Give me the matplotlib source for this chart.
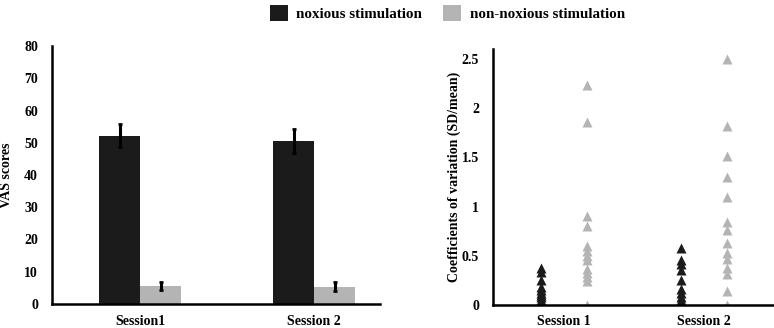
import matplotlib
matplotlib.use("Agg")
import matplotlib.pyplot as plt
from matplotlib.patches import Patch
import numpy as np

plt.rcParams['font.family'] = ['Liberation Serif', 'DejaVu Serif']
plt.rcParams['font.weight'] = 'bold'

sessions_left = ["Session1", "Session 2"]
sessions_right = ["Session 1", "Session 2"]
series = ["noxious stimulation", "non-noxious stimulation"]
colors = ["#1b1b1b", "#b4b4b4"]

vas_noxious = [52.2, 50.6]
vas_noxious_err = [3.6, 3.7]
vas_non = [5.6, 5.4]
vas_non_err = [1.3, 1.4]

cv_nox_s1 = [0.38, 0.34, 0.25, 0.18, 0.15, 0.12, 0.10, 0.08, 0.05, 0.03, 0.01]
cv_non_s1 = [2.23, 1.86, 0.90, 0.80, 0.60, 0.55, 0.50, 0.46, 0.37, 0.33, 0.28, 0.24, 0.0]
cv_nox_s2 = [0.58, 0.46, 0.42, 0.36, 0.25, 0.16, 0.12, 0.08, 0.05, 0.02, 0.0]
cv_non_s2 = [2.50, 1.82, 1.51, 1.30, 1.10, 0.84, 0.76, 0.63, 0.53, 0.47, 0.38, 0.31, 0.14, 0.0]

W, H = 774, 328
fig = plt.figure(figsize=(W / 100, H / 100), dpi=100)

def ax_rect(l, r, b, t):
    return [l / W, 1 - b / H, (r - l) / W, (b - t) / H]

tick_fs = 10

# Left: bar chart
ax1 = fig.add_axes(ax_rect(52, 380, 304, 46))
x = np.arange(len(sessions_left))
bw = 0.236
ax1.bar(x - bw / 2, vas_noxious, bw, color=colors[0])
ax1.bar(x + bw / 2, vas_non, bw, color=colors[1])
ax1.errorbar(x - bw / 2, vas_noxious, yerr=vas_noxious_err, fmt='none',
             ecolor='black', elinewidth=2.2, capsize=1.2, capthick=2)
ax1.errorbar(x + bw / 2, vas_non, yerr=vas_non_err, fmt='none',
             ecolor='black', elinewidth=2.2, capsize=1.2, capthick=2)
ax1.set_xlim(-0.506, 1.379)
ax1.set_ylim(0, 80)
ax1.set_yticks(range(0, 81, 10))
ax1.set_xticks(x)
ax1.set_xticklabels(sessions_left)
ax1.set_ylabel("VAS scores", fontsize=tick_fs, fontweight='bold')
ax1.yaxis.set_label_coords((13 - 52) / 328, 0.5)

# Right: scatter
ax2 = fig.add_axes(ax_rect(493, 774, 305, 49))
off = 0.164
ms = 6.5
ax2.plot([0 - off] * len(cv_nox_s1), cv_nox_s1, '^', color=colors[0], ms=ms, mec='none')
ax2.plot([0 + off] * len(cv_non_s1), cv_non_s1, '^', color=colors[1], ms=ms, mec='none')
ax2.plot([1 - off] * len(cv_nox_s2), cv_nox_s2, '^', color=colors[0], ms=ms, mec='none')
ax2.plot([1 + off] * len(cv_non_s2), cv_non_s2, '^', color=colors[1], ms=ms, mec='none')
ax2.set_xlim(-0.505, 1.502)
ax2.set_ylim(0, 2.6)
ax2.set_yticks([0, 0.5, 1, 1.5, 2, 2.5])
ax2.set_yticklabels(["0", "0.5", "1", "1.5", "2", "2.5"])
ax2.set_xticks([0, 1])
ax2.set_xticklabels(sessions_right)
ax2.set_ylabel("Coefficients of variation (SD/mean)", fontsize=tick_fs, fontweight='bold')
ax2.yaxis.set_label_coords((461 - 493) / 281, 0.5)

for ax in (ax1, ax2):
    for s in ('top', 'right'):
        ax.spines[s].set_visible(False)
    for s in ('left', 'bottom'):
        ax.spines[s].set_linewidth(1.8)
        ax.spines[s].set_color('black')
    ax.tick_params(length=0, labelsize=tick_fs)
    ax.tick_params(axis='y', pad=10)
    for lab in ax.get_xticklabels() + ax.get_yticklabels():
        lab.set_fontweight('bold')
ax1.tick_params(axis='x', pad=8)
ax2.tick_params(axis='x', pad=7)

handles = [Patch(facecolor=colors[0], edgecolor='none'),
           Patch(facecolor=colors[1], edgecolor='none')]
fig.legend(handles, series, loc='upper left', bbox_to_anchor=(256 / W, 1.025),
           ncol=2, frameon=False, handlelength=1.25, handleheight=1.25,
           handletextpad=0.55, columnspacing=1.35, prop={'weight': 'bold', 'size': 10.8})

fig.savefig("out.png", dpi=100)
